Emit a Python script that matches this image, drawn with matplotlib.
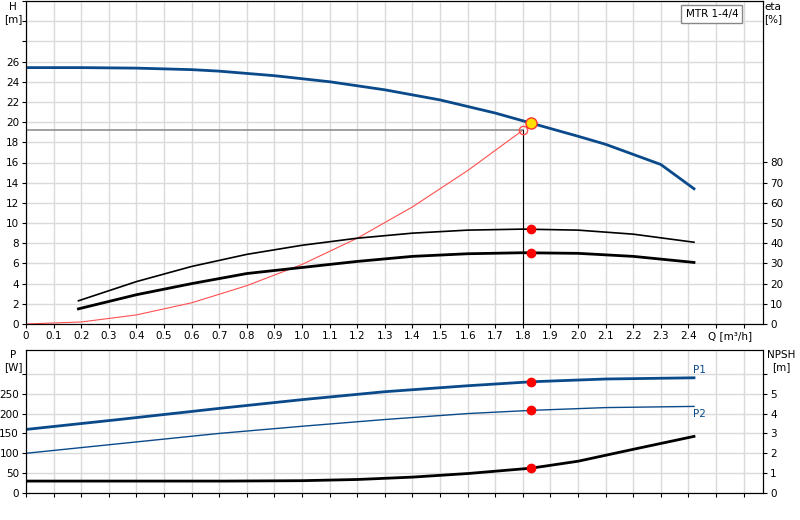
import matplotlib
matplotlib.use("Agg")
import matplotlib.pyplot as plt
import numpy as np

q_h = [0, 0.2, 0.4, 0.6, 0.7, 0.9, 1.1, 1.3, 1.5, 1.7, 1.83, 2.0, 2.1, 2.3, 2.42]
h = [25.4, 25.4, 25.35, 25.2, 25.05, 24.6, 24.0, 23.2, 22.2, 20.9, 19.9, 18.6, 17.8, 15.8, 13.4]
q_sys = [0, 0.2, 0.4, 0.6, 0.8, 1.0, 1.2, 1.4, 1.6, 1.8]
h_sys = [0, 0.2, 0.9, 2.1, 3.8, 5.9, 8.5, 11.6, 15.2, 19.2]
q_eta = [0.19, 0.4, 0.6, 0.8, 1.0, 1.2, 1.4, 1.6, 1.8, 2.0, 2.2, 2.42]
eta1 = [11.5, 21, 28.5, 34.5, 39, 42.5, 45, 46.5, 47, 46.5, 44.5, 40.5]
eta2 = [7.5, 14.5, 20, 25, 28, 31, 33.5, 34.8, 35.3, 35, 33.5, 30.5]
q_p = [0, 0.35, 0.7, 1.0, 1.3, 1.6, 1.83, 2.1, 2.42]
p1 = [160, 186, 213, 235, 255, 270, 280, 287, 290]
p2 = [100, 125, 150, 168, 185, 200, 208, 215, 218]
q_npsh = [0, 0.2, 0.72, 1.0, 1.2, 1.4, 1.6, 1.83, 2.0, 2.2, 2.42]
npsh = [0.6, 0.6, 0.6, 0.62, 0.68, 0.8, 0.98, 1.25, 1.6, 2.2, 2.85]
duty_q, duty_h, duty_eta1, duty_eta2, duty_p1, duty_p2, duty_npsh = 1.83, 19.9, 47, 35.3, 280, 208, 1.25
req_q, req_h = 1.8, 19.2

blue = "#0a4a8a"
fs = 7.5
XMAX = 2.67
fig = plt.figure(figsize=(8, 5.2), dpi=100)
ax = fig.add_axes([26/800, 1-324/520, 737/800, 323/520])
ax.set_xlim(0, XMAX); ax.set_ylim(0, 32)
ax.set_yticks(np.arange(0, 33, 2))
ax.set_yticklabels([str(v) if v <= 26 else "" for v in range(0, 33, 2)])
ax.set_xticks(np.arange(0, 2.65, 0.1))
ax.set_xticklabels(["0"] + [f"{v:.1f}" for v in np.arange(0.1, 2.45, 0.1)] + ["", ""])
ax.grid(True, color="#dadada", lw=1)
ax.tick_params(labelsize=fs, length=3, pad=2)
ax.plot(q_h, h, color=blue, lw=2)
ax.plot(q_sys, h_sys, color="#ff5050", lw=0.8)
ax.plot(q_eta, [e/5 for e in eta1], color="black", lw=1.2)
ax.plot(q_eta, [e/5 for e in eta2], color="black", lw=2)
ax.plot([0, req_q], [req_h, req_h], color="#909090", lw=1.2)
ax.plot([req_q, req_q], [0, req_h], color="black", lw=0.8)
ax.plot(req_q, req_h, "o", mfc="none", mec="#ff5050", ms=6)
ax.plot(duty_q, duty_h, "o", mfc="#ffe000", mec="#ff3030", ms=8)
ax.plot([duty_q]*2, [duty_eta1/5, duty_eta2/5], "o", color="red", ms=6, ls="none")
fig.text(13/800, 1-2/520, "H\n[m]", ha="center", va="top", fontsize=fs)
ax.text(2.55, -0.7, "Q [m³/h]", ha="center", va="top", fontsize=fs)
ax.text(2.58, 31.2, "MTR 1-4/4", ha="right", va="top", fontsize=fs,
        bbox=dict(fc="white", ec="#888888", boxstyle="square,pad=0.4"))
ax2 = ax.twinx(); ax2.set_ylim(0, 160)
ax2.set_yticks(range(0, 81, 10)); ax2.tick_params(labelsize=fs, length=3, pad=2)
fig.text(773/800, 1-2/520, "eta\n[%]", ha="center", va="top", fontsize=fs)

bx = fig.add_axes([26/800, 1-493/520, 737/800, 143/520])
bx.set_xlim(0, XMAX); bx.set_ylim(0, 360)
bx.set_xticks(np.arange(0, 2.65, 0.1)); bx.set_xticklabels([])
bx.set_yticks(range(0, 301, 50)); bx.set_yticklabels([str(v) if v < 300 else "" for v in range(0, 301, 50)])
bx.grid(True, color="#dadada", lw=1)
bx.tick_params(labelsize=fs, length=3, pad=2)
bx.plot(q_p, p1, color=blue, lw=2)
bx.plot(q_p, p2, color=blue, lw=1)
bx.plot([duty_q]*2, [duty_p1, duty_p2], "o", color="red", ms=6, ls="none")
bx.text(2.44, 296, "P1", color=blue, fontsize=fs, ha="center", va="bottom")
bx.text(2.44, 212, "P2", color=blue, fontsize=fs, ha="center", va="top")
fig.text(13/800, 1-350/520, "P\n[W]", ha="center", va="top", fontsize=fs)
bx2 = bx.twinx(); bx2.set_ylim(0, 7.2)
bx2.set_yticks(range(0, 7)); bx2.set_yticklabels([str(v) if v < 6 else "" for v in range(7)])
bx2.tick_params(labelsize=fs, length=3, pad=2)
bx2.plot(q_npsh, npsh, color="black", lw=2)
bx2.plot(duty_q, duty_npsh, "o", color="red", ms=6)
fig.text(781/800, 1-350/520, "NPSH\n[m]", ha="center", va="top", fontsize=fs)
fig.savefig("out.png", dpi=100)
